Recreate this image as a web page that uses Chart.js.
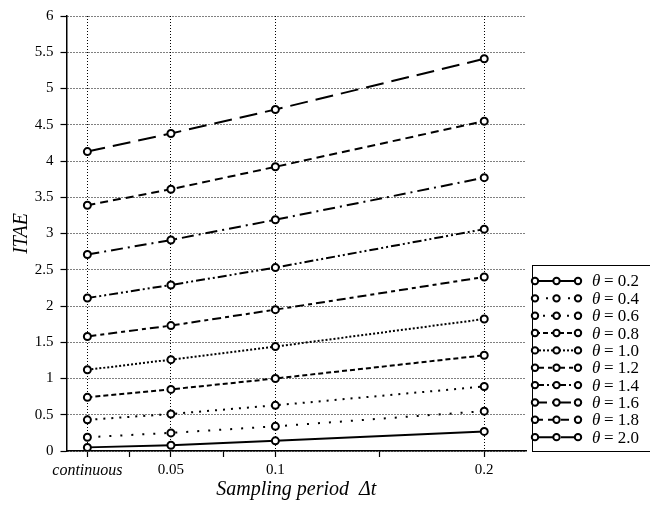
<!DOCTYPE html>
<html>
<head>
<meta charset="utf-8">
<script src="https://cdn.jsdelivr.net/npm/chart.js@4"></script>
<style>
  html, body { margin: 0; padding: 0; background: #fff; }
  #wrap { width: 650px; height: 508px; }
</style>
</head>
<body>
<div id="wrap"><canvas id="itaeChart"></canvas></div>
<script>
  const xLabels = ['continuous', '0.05', '0.1', '0.2'];
  const xValues = [0.01, 0.05, 0.1, 0.2];
  const minorTicks = [0.03, 0.075, 0.15];
  const yTicks = [0, 0.5, 1, 1.5, 2, 2.5, 3, 3.5, 4, 4.5, 5, 5.5, 6];

  const thetas = ['0.2', '0.4', '0.6', '0.8', '1.0', '1.2', '1.4', '1.6', '1.8', '2.0'];
  const itae02 = [0.05, 0.08, 0.14, 0.27];
  const itae04 = [0.19, 0.25, 0.34, 0.55];
  const itae06 = [0.43, 0.51, 0.63, 0.89];
  const itae08 = [0.74, 0.85, 1.00, 1.32];
  const itae10 = [1.12, 1.26, 1.44, 1.82];
  const itae12 = [1.58, 1.73, 1.95, 2.40];
  const itae14 = [2.11, 2.29, 2.53, 3.06];
  const itae16 = [2.71, 2.91, 3.19, 3.77];
  const itae18 = [3.39, 3.61, 3.92, 4.55];
  const itae20 = [4.13, 4.38, 4.71, 5.41];
  const seriesValues = [itae02, itae04, itae06, itae08, itae10, itae12, itae14, itae16, itae18, itae20];

  // line style per theta
  const dashes = [
    [], [2, 9], [2, 6], [5, 3], [2, 2],
    [9, 4, 4, 4], [9, 3, 2, 3, 2, 3], [12, 5, 2, 5], [8, 5], [18, 8]
  ];

  const serif = '"Liberation Serif", "DejaVu Serif", serif';

  const datasets = thetas.map((t, i) => ({
    label: 'θ = ' + t,
    data: xValues.map((x, j) => ({ x: x, y: seriesValues[i][j] })),
    borderColor: '#000',
    borderWidth: 2,
    borderDash: dashes[i],
    borderCapStyle: 'butt',
    pointRadius: 3.5,
    pointBorderWidth: 2,
    pointBorderColor: '#000',
    pointBackgroundColor: '#fff',
    fill: false,
    tension: 0
  }));

  const boxLegend = {
    id: 'boxLegend',
    afterDraw(chart) {
      const ctx = chart.ctx;
      ctx.save();
      ctx.strokeStyle = '#000';
      ctx.lineWidth = 1;
      ctx.setLineDash([]);
      ctx.strokeRect(532.5, 265.5, 130, 186);
      chart.data.datasets.forEach((ds, i) => {
        const y = 281 + i * 17.35;
        ctx.lineWidth = 2;
        ctx.lineCap = 'butt';
        ctx.setLineDash(ds.borderDash);
        ctx.beginPath();
        ctx.moveTo(535, y);
        ctx.lineTo(578, y);
        ctx.stroke();
        ctx.setLineDash([]);
        [535, 556.5, 578].forEach(x => {
          ctx.beginPath();
          ctx.arc(x, y, 3.2, 0, Math.PI * 2);
          ctx.fillStyle = '#fff';
          ctx.fill();
          ctx.stroke();
        });
        ctx.fillStyle = '#000';
        ctx.textBaseline = 'middle';
        ctx.font = 'italic 17px ' + serif;
        ctx.fillText('θ', 592, y + 1);
        ctx.font = '17px ' + serif;
        ctx.fillText('= ' + thetas[i], 604, y + 1);
      });
      ctx.restore();
    }
  };

  const isMajor = v => xValues.some(x => Math.abs(x - v) < 1e-9);

  new Chart(document.getElementById('itaeChart'), {
    type: 'line',
    data: { datasets: datasets },
    plugins: [boxLegend],
    options: {
      responsive: true,
      maintainAspectRatio: false,
      animation: false,
      layout: { padding: { top: 14, right: 124, left: 0, bottom: 0 } },
      plugins: {
        legend: { display: false },
        tooltip: { enabled: false }
      },
      scales: {
        x: {
          type: 'linear',
          min: 0,
          max: 0.22,
          afterBuildTicks: scale => {
            scale.ticks = xValues.concat(minorTicks).sort((a, b) => a - b).map(v => ({ value: v }));
          },
          afterFit: scale => { scale.height = 57; },
          ticks: {
            autoSkip: false,
            maxRotation: 0,
            padding: 4,
            color: '#000',
            font: ctx => ({
              family: serif,
              size: ctx.tick && ctx.tick.value === xValues[0] ? 16 : 15,
              style: ctx.tick && ctx.tick.value === xValues[0] ? 'italic' : 'normal'
            }),
            callback: v => {
              const k = xValues.findIndex(x => Math.abs(x - v) < 1e-9);
              return k >= 0 ? xLabels[k] : '';
            }
          },
          grid: {
            color: ctx => (ctx.tick && isMajor(ctx.tick.value)) ? '#000' : 'rgba(0,0,0,0)',
            lineWidth: 1,
            drawTicks: true,
            tickLength: 6,
            tickColor: '#000',
            tickWidth: 1.2,
            tickBorderDash: []
          },
          border: { display: true, color: '#000', width: 1.5, dash: [1, 2] },
          title: {
            display: true,
            text: 'Sampling period  Δt',
            color: '#000',
            font: { family: serif, size: 20, style: 'italic' },
            padding: { top: 0, bottom: 6 }
          }
        },
        y: {
          type: 'linear',
          min: 0,
          max: 6,
          afterBuildTicks: scale => {
            scale.ticks = yTicks.map(v => ({ value: v }));
          },
          afterFit: scale => { scale.width = 66.5; },
          ticks: {
            padding: 7,
            color: '#000',
            font: { family: serif, size: 15 },
            callback: v => String(v)
          },
          grid: {
            color: '#000',
            lineWidth: 1,
            drawTicks: true,
            tickLength: 6,
            tickColor: '#000',
            tickWidth: 1.2,
            tickBorderDash: []
          },
          border: { display: true, color: '#000', width: 1.5, dash: [1, 2] },
          title: {
            display: true,
            text: 'ITAE',
            color: '#000',
            font: { family: serif, size: 20, style: 'italic' },
            padding: { top: 10, bottom: 0 }
          }
        }
      }
    }
  });
</script>
</body>
</html>
